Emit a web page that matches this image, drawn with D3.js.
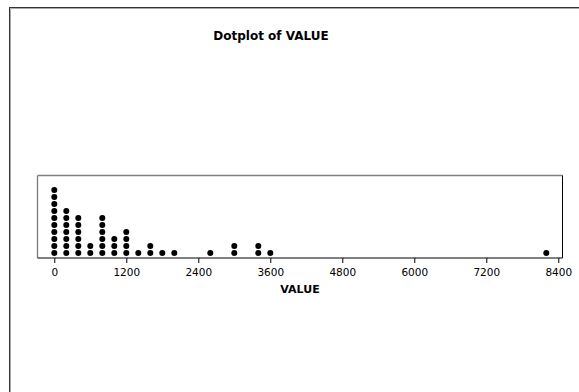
<!DOCTYPE html>
<html><head><meta charset="utf-8">
<script src="https://cdn.jsdelivr.net/npm/d3@7"></script>
<style>html,body{margin:0;padding:0;background:#fff;overflow:hidden}</style>
</head><body>
<svg id="c" width="579" height="392"></svg>
<script>
// Data: dot bin positions (VALUE) and number of dots stacked at each
const binValues = [0, 200, 400, 600, 800, 1000, 1200, 1400, 1600, 1800, 2000, 2600, 3000, 3400, 3600, 8200];
const binCounts = [10, 7, 6, 2, 6, 3, 4, 1, 2, 1, 1, 1, 2, 2, 1, 1];
const tickValues = [0, 1200, 2400, 3600, 4800, 6000, 7200, 8400];
const titleText = "Dotplot of VALUE";
const axisLabel = "VALUE";

const svg = d3.select("#c");
const font = "'DejaVu Sans', Verdana, sans-serif";

// outer graph frame
svg.append("rect").attr("x", 9.5).attr("y", 7.5).attr("width", 600).attr("height", 420)
  .attr("fill", "#fff").attr("stroke", "#333").attr("stroke-width", 1);
svg.append("path").attr("d", "M10.5,600V8.5H600").attr("fill", "none").attr("stroke", "#aaa").attr("stroke-width", 1);

// plot box
const box = {left: 37.5, top: 175.5, right: 562.5, bottom: 258};
const x = d3.scaleLinear().domain([0, 8400]).range([54.3, 558.3]);
const dotStep = 7;
const y = d3.scaleLinear().domain([0, 1]).range([253, 253 - dotStep]);

svg.append("line").attr("x1", box.left).attr("x2", box.right).attr("y1", box.top).attr("y2", box.top)
  .attr("stroke", "#808080").attr("stroke-width", 1.6);
svg.append("line").attr("x1", box.left).attr("x2", box.left).attr("y1", box.top).attr("y2", box.bottom)
  .attr("stroke", "#808080").attr("stroke-width", 1.4);
svg.append("line").attr("x1", box.right).attr("x2", box.right).attr("y1", box.top).attr("y2", box.bottom)
  .attr("stroke", "#000").attr("stroke-width", 1);

// axis
const axis = d3.axisBottom(x).tickValues(tickValues).tickSize(5).tickPadding(6).tickSizeOuter(0)
  .tickFormat(d3.format("d"));
const g = svg.append("g").attr("transform", `translate(0,${box.bottom})`).call(axis);
g.select(".domain").attr("d", `M${box.left},0H${box.right}`).attr("stroke", "#000");
g.selectAll(".tick line").attr("stroke", "#000");
g.selectAll(".tick text").attr("font-family", font).attr("font-size", "10.5px").attr("fill", "#000");

// dots
const dots = [];
binValues.forEach((v, i) => { for (let k = 0; k < binCounts[i]; k++) dots.push({v, k}); });
svg.append("g").selectAll("circle").data(dots).join("circle")
  .attr("cx", d => x(d.v)).attr("cy", d => y(d.k)).attr("r", 3).attr("fill", "#000");

// labels
svg.append("text").attr("x", 300).attr("y", 292.5).attr("text-anchor", "middle")
  .attr("font-family", font).attr("font-weight", "bold").attr("font-size", "11px").text(axisLabel);
svg.append("text").attr("x", 271).attr("y", 40).attr("text-anchor", "middle")
  .attr("font-family", font).attr("font-weight", "bold").attr("font-size", "12px").text(titleText);
</script>
</body></html>
